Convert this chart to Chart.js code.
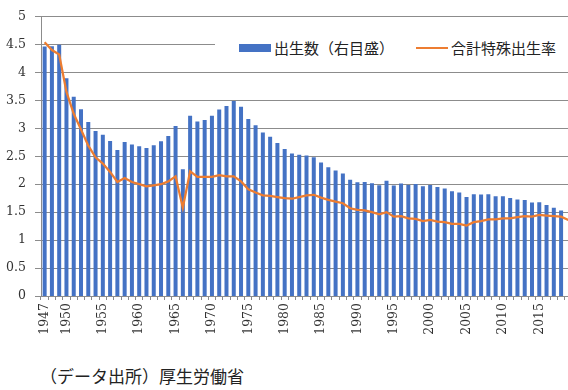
<!DOCTYPE html>
<html>
<head>
<meta charset="utf-8">
<script src="https://cdn.jsdelivr.net/npm/chart.js@4/dist/chart.umd.min.js"></script>
<style>
  html, body { margin: 0; padding: 0; background: #fff; }
  #wrap { position: relative; width: 568px; height: 390px; overflow: hidden; background: #fff; }
  #c { position: absolute; left: 0; top: 0; }
  #legend { position: absolute; left: 215px; top: 24px; width: 400px; height: 48px; background: #fff; }
  .lg-text { position: absolute; font-family: "Noto Sans CJK JP", sans-serif; font-size: 15px; line-height: 15px; color: #222; white-space: nowrap; }
  #src { position: absolute; left: 40px; top: 367px; font-family: "Noto Sans CJK JP", sans-serif; font-size: 17px; line-height: 17px; color: #222; white-space: nowrap; }
</style>
</head>
<body>
<div id="wrap">
  <canvas id="c" width="600" height="350"></canvas>
  <div id="legend">
    <div style="position:absolute;left:24px;top:19.5px;width:32px;height:8px;background:#4472C4;"></div>
    <div class="lg-text" style="left:59px;top:16px;">出生数（右目盛）</div>
    <div style="position:absolute;left:201px;top:22.5px;width:32px;height:2.5px;background:#ED7D31;"></div>
    <div class="lg-text" style="left:236px;top:16px;">合計特殊出生率</div>
  </div>
  <div id="src">（データ出所）厚生労働省</div>
</div>
<script>
// Categories: years
const years = ['1947','1948','1949','1950','1951','1952','1953','1954','1955','1956',
  '1957','1958','1959','1960','1961','1962','1963','1964','1965','1966',
  '1967','1968','1969','1970','1971','1972','1973','1974','1975','1976',
  '1977','1978','1979','1980','1981','1982','1983','1984','1985','1986',
  '1987','1988','1989','1990','1991','1992','1993','1994','1995','1996',
  '1997','1998','1999','2000','2001','2002','2003','2004','2005','2006',
  '2007','2008','2009','2010','2011','2012','2013','2014','2015','2016',
  '2017','2018','2019'];

// 出生数 (万人), right scale (hidden, 0-300)
const births = [267.9,268.2,269.7,233.8,213.8,200.5,186.8,177.0,173.1,166.5,
  156.7,165.3,162.6,160.6,158.9,161.9,166.0,171.7,182.4,136.1,
  193.6,187.2,188.9,193.4,200.1,203.9,209.2,203.0,190.1,183.3,
  175.5,170.9,164.3,157.7,152.9,151.5,150.9,149.0,143.2,138.3,
  134.7,131.4,124.7,122.2,122.3,120.9,118.8,123.8,118.7,120.7,
  119.2,120.3,117.8,119.1,117.1,115.4,112.4,111.1,106.3,109.3,
  109.0,109.1,107.0,107.1,105.1,103.7,103.0,100.4,100.6,97.7,
  94.6,91.8,null];

// 合計特殊出生率, left scale
const tfr = [4.54,4.40,4.32,3.65,3.26,2.98,2.69,2.48,2.37,2.22,
  2.04,2.11,2.04,2.00,1.96,1.98,2.00,2.05,2.14,1.58,
  2.23,2.13,2.13,2.13,2.16,2.14,2.14,2.05,1.91,1.85,
  1.80,1.79,1.77,1.75,1.74,1.77,1.80,1.81,1.76,1.72,
  1.69,1.66,1.57,1.54,1.53,1.50,1.46,1.50,1.42,1.43,
  1.39,1.38,1.34,1.36,1.33,1.32,1.29,1.29,1.26,1.32,
  1.34,1.37,1.37,1.39,1.39,1.41,1.43,1.42,1.45,1.44,
  1.43,1.42,1.36];

// Years that carry an x tick label
const tickYears = ['1947','1950','1955','1960','1965','1970','1975','1980',
  '1985','1990','1995','2000','2005','2010','2015'];

const gridGray = '#8c8c8c';
const tickFont = { family: 'DejaVu Serif', size: 12.5 };

new Chart(document.getElementById('c'), {
  data: {
    labels: years,
    datasets: [
      {
        type: 'line',
        label: '合計特殊出生率',
        data: tfr,
        yAxisID: 'y',
        borderColor: '#ED7D31',
        borderWidth: 2.25,
        pointRadius: 0,
        tension: 0,
        order: 1
      },
      {
        type: 'bar',
        label: '出生数（右目盛）',
        data: births,
        yAxisID: 'y1',
        backgroundColor: '#4472C4',
        barPercentage: 0.55,
        categoryPercentage: 1.0,
        order: 2
      }
    ]
  },
  options: {
    responsive: false,
    devicePixelRatio: 1,
    animation: false,
    layout: { padding: { top: 14, left: 0, right: 28, bottom: 0 } },
    plugins: { legend: { display: false }, tooltip: { enabled: false } },
    scales: {
      x: {
        type: 'category',
        offset: true,
        grid: { offset: true, drawOnChartArea: false, drawTicks: true, tickLength: 4, color: gridGray },
        border: { display: true, color: gridGray },
        ticks: {
          autoSkip: false,
          maxRotation: 90,
          minRotation: 90,
          padding: 3,
          font: tickFont,
          color: '#333',
          callback: function (v) {
            const y = this.getLabelForValue(v);
            return tickYears.includes(y) ? y : '';
          }
        },
        afterFit: function (s) { s.height = 54; }
      },
      y: {
        position: 'left',
        min: 0,
        max: 5,
        ticks: {
          stepSize: 0.5, padding: 9, font: tickFont, color: '#333',
          callback: function (v) { return String(Math.round(v * 10) / 10); }
        },
        grid: { color: gridGray, tickLength: 6, drawTicks: true },
        border: { display: true, color: gridGray },
        afterFit: function (s) { s.width = 41; }
      },
      y1: {
        position: 'right',
        display: false,
        min: 0,
        max: 300
      }
    }
  }
});
</script>
</body>
</html>
